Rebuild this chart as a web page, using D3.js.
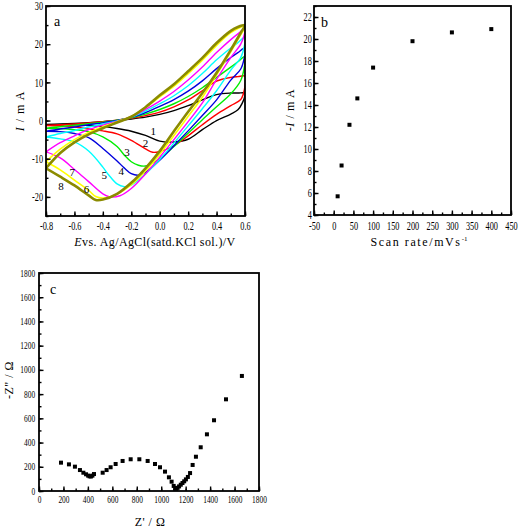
<!DOCTYPE html>
<html><head><meta charset="utf-8">
<script src="https://cdn.jsdelivr.net/npm/d3@7"></script>
<style>
body{margin:0;background:#fff;}
svg{display:block;}
svg text{font-family:"Liberation Serif","Times New Roman",serif !important;}
</style></head><body>
<svg id="chart" width="520" height="530"></svg>
<script>
// ---------- Panel a: cyclic voltammograms (E / V, I / mA) ----------
const cvForwardE = [-0.8, -0.7, -0.6, -0.5, -0.4, -0.3, -0.2, -0.1, 0.0, 0.1, 0.2, 0.3, 0.4, 0.5, 0.55, 0.6];
const cv1Forward = [-1.0, -0.9, -0.75, -0.55, -0.3, 0.0, 0.4, 0.9, 1.6, 2.6, 3.9, 5.4, 6.8, 7.2, 7.2, 7.2];
const cv2Forward = [-1.3, -1.1, -0.9, -0.6, -0.3, 0.1, 0.6, 1.3, 2.2, 3.6, 5.4, 7.8, 10.3, 11.3, 11.5, 11.6];
const cv3Forward = [-2.0, -1.6, -1.2, -0.8, -0.4, 0.1, 0.7, 1.7, 2.9, 4.4, 6.3, 8.6, 11.3, 14.0, 15.4, 16.8];
const cv4Forward = [-2.8, -2.2, -1.7, -1.1, -0.6, 0.0, 0.8, 2.1, 3.7, 5.5, 7.7, 10.4, 13.6, 16.5, 17.8, 19.0];
const cv5Forward = [-4.3, -3.4, -2.6, -1.7, -0.9, -0.1, 0.9, 2.5, 4.4, 6.5, 9.1, 12.3, 15.9, 19.0, 20.4, 21.8];
const cv6Forward = [-8.2, -5.8, -4.0, -2.4, -1.2, -0.2, 1.0, 2.9, 5.1, 7.6, 10.6, 14.0, 17.8, 21.2, 22.7, 24.0];
const cv7Forward = [-10.8, -7.5, -5.0, -3.1, -1.6, -0.3, 1.1, 3.4, 6.2, 9.0, 12.3, 15.8, 19.7, 23.0, 24.1, 24.8];
const cv8Forward = [-12.5, -8.5, -5.7, -3.6, -2.0, -0.5, 1.0, 3.5, 6.6, 9.5, 12.9, 16.4, 20.3, 23.5, 24.5, 25.0];

const cv1Reverse = [[0.6,6.6],[0.58,4.5],[0.55,2.8],[0.5,1.7],[0.4,0.0],[0.3,-2.4],[0.2,-4.9],[0.1,-5.6],[0.0,-5.4],[-0.1,-3.9],[-0.2,-2.8],[-0.3,-2.1],[-0.4,-1.6],[-0.5,-1.3],[-0.6,-1.1],[-0.7,-1.0],[-0.8,-1.0]];
const cv2Reverse = [[0.595,8.0],[0.57,5.5],[0.5,3.9],[0.4,1.6],[0.3,-1.1],[0.2,-4.0],[0.1,-6.6],[0.0,-8.1],[-0.05,-8.3],[-0.1,-7.4],[-0.2,-5.2],[-0.3,-3.5],[-0.4,-2.7],[-0.5,-2.2],[-0.6,-1.7],[-0.7,-1.4],[-0.8,-1.3]];
const cv3Reverse = [[0.595,14.0],[0.57,10.5],[0.5,7.0],[0.4,3.6],[0.3,0.2],[0.2,-3.3],[0.1,-6.8],[0.0,-10.0],[-0.1,-11.9],[-0.15,-11.7],[-0.2,-10.8],[-0.25,-9.0],[-0.3,-6.8],[-0.4,-4.3],[-0.5,-2.9],[-0.6,-2.4],[-0.7,-2.1],[-0.8,-2.0]];
const cv4Reverse = [[0.595,16.5],[0.57,13.5],[0.5,10.6],[0.4,5.4],[0.3,1.3],[0.2,-2.7],[0.1,-6.6],[0.0,-10.4],[-0.1,-13.6],[-0.15,-14.3],[-0.2,-13.9],[-0.25,-12.4],[-0.3,-10.6],[-0.4,-7.3],[-0.5,-4.5],[-0.6,-3.4],[-0.7,-2.9],[-0.8,-2.8]];
const cv5Reverse = [[0.595,19.5],[0.57,16.5],[0.5,13.2],[0.4,7.8],[0.3,3.1],[0.2,-1.4],[0.1,-5.9],[0.0,-10.2],[-0.1,-14.0],[-0.2,-16.9],[-0.25,-17.3],[-0.3,-16.6],[-0.36,-14.2],[-0.4,-12.2],[-0.5,-8.0],[-0.6,-5.6],[-0.7,-4.8],[-0.8,-4.3]];
const cv6Reverse = [[0.595,22.5],[0.57,20.0],[0.5,16.5],[0.4,10.8],[0.3,4.6],[0.2,-0.3],[0.1,-5.0],[0.0,-9.6],[-0.1,-14.0],[-0.2,-17.8],[-0.28,-19.7],[-0.35,-20.0],[-0.4,-19.2],[-0.5,-16.0],[-0.6,-12.8],[-0.7,-9.8],[-0.8,-8.2]];
const cv7Reverse = [[0.595,24.0],[0.57,22.5],[0.5,18.0],[0.4,12.0],[0.3,6.1],[0.2,1.1],[0.1,-3.9],[0.0,-8.8],[-0.1,-13.2],[-0.2,-16.8],[-0.3,-19.3],[-0.4,-20.3],[-0.45,-19.9],[-0.5,-18.3],[-0.6,-15.6],[-0.7,-12.9],[-0.8,-10.8]];
const cv8Reverse = [[0.595,24.5],[0.57,23.0],[0.5,18.5],[0.4,12.5],[0.3,7.2],[0.2,2.3],[0.1,-2.8],[0.0,-8.0],[-0.1,-12.5],[-0.2,-16.3],[-0.3,-19.2],[-0.4,-20.7],[-0.45,-20.8],[-0.5,-19.6],[-0.6,-17.0],[-0.7,-14.7],[-0.8,-12.5]];

const cvLabels = ["1","2","3","4","5","6","7","8"];
const cvLabelAt = [[-0.045,-2.8],[-0.1,-6.0],[-0.23,-8.3],[-0.27,-13.3],[-0.39,-14.2],[-0.515,-17.8],[-0.615,-13.5],[-0.695,-17.1]];

// ---------- Panel b: peak current vs scan rate ----------
const scanRates = [10, 20, 40, 60, 100, 200, 300, 400];
const peakCurrents = [5.7, 8.5, 12.2, 14.6, 17.4, 19.8, 20.6, 20.9];

// ---------- Panel c: Nyquist plot ----------
const zReal = [180,245,294,335,363,385,402,414,425,437,450,521,553,586,627,684,750,821,889,949,990,1031,1063,1085,1102,1114,1124,1134,1146,1160,1174,1188,1202,1218,1236,1257,1284,1323,1374,1432,1530,1660];
const zImag = [234,220,201,173,151,138,127,121,120,127,140,151,173,196,223,248,262,262,248,223,196,160,113,77,42,25,18,26,38,52,66,80,96,116,148,215,283,361,468,584,757,950];

// ---------- styles ----------
const cvColors = ["#000000","#ff0000","#00ee00","#0000dd","#00ffff","#ff00ff","#ffff00","#8b8b00"];
const cvWidths = [1.4,1.4,1.4,1.4,1.4,1.4,1.6,2.6];
const SERIF = '"Liberation Serif","Times New Roman",serif';

const svg = d3.select("#chart");
const cvForward = [cv1Forward,cv2Forward,cv3Forward,cv4Forward,cv5Forward,cv6Forward,cv7Forward,cv8Forward];
const cvReverse = [cv1Reverse,cv2Reverse,cv3Reverse,cv4Reverse,cv5Reverse,cv6Reverse,cv7Reverse,cv8Reverse];

function drawFrame(x, y, cfg) {
  const [x0, x1] = x.range(), [y0, y1] = y.range();
  const styleText = sel => sel.style("font-family", SERIF).attr("font-size", cfg.fs)
      .attr("fill", "#000").attr("transform", `scale(${cfg.sx},1)`);
  const gxm = svg.append("g").attr("transform", `translate(0,${y0})`)
    .call(d3.axisBottom(x).tickValues(cfg.xMinor).tickSize(-2.5).tickFormat(""));
  gxm.select(".domain").remove();
  const gym = svg.append("g").attr("transform", `translate(${x0},0)`)
    .call(d3.axisLeft(y).tickValues(cfg.yMinor).tickSize(-2.5).tickFormat(""));
  gym.select(".domain").remove();
  const gx = svg.append("g").attr("transform", `translate(0,${y0})`)
    .call(d3.axisBottom(x).tickValues(cfg.xMajor).tickSize(-4.5).tickPadding(cfg.xPad).tickFormat(cfg.xFmt));
  gx.select(".domain").remove();
  gx.attr("font-family", null);
  styleText(gx.selectAll("text"));
  const gy = svg.append("g").attr("transform", `translate(${x0},0)`)
    .call(d3.axisLeft(y).tickValues(cfg.yMajor).tickSize(-4.5).tickPadding(cfg.yPad).tickFormat(cfg.yFmt));
  gy.select(".domain").remove();
  gy.attr("font-family", null);
  styleText(gy.selectAll("text"));
  svg.selectAll(".tick line").attr("stroke", "#000").attr("stroke-width", 1.4);
  svg.append("rect").attr("x", x0).attr("y", y1).attr("width", x1 - x0).attr("height", y0 - y1)
    .attr("fill", "none").attr("stroke", "#000").attr("stroke-width", 1.8);
}

// ===== Panel a =====
const ax = d3.scaleLinear().domain([-0.8, 0.6]).range([46, 245]);
const ay = d3.scaleLinear().domain([-25, 30]).range([216, 6]);
svg.append("clipPath").attr("id", "clipA").append("rect")
  .attr("x", 46).attr("y", 6).attr("width", 199).attr("height", 210);
const cvLine = d3.line().x(d => ax(d[0])).y(d => ay(d[1])).curve(d3.curveCatmullRom.alpha(0.5));
const gA = svg.append("g").attr("clip-path", "url(#clipA)");
cvForward.forEach((fwd, k) => {
  const pts = cvForwardE.map((e, i) => [e, fwd[i]]).concat(cvReverse[k]);
  gA.append("path").attr("d", cvLine(pts)).attr("fill", "none")
    .attr("stroke", cvColors[k]).attr("stroke-width", cvWidths[k]).attr("stroke-linejoin", "round");
});
cvLabels.forEach((t, k) => {
  svg.append("text").attr("x", ax(cvLabelAt[k][0])).attr("y", ay(cvLabelAt[k][1]))
    .attr("text-anchor", "middle").attr("dominant-baseline", "central")
    .attr("font-size", 11).text(t);
});
drawFrame(ax, ay, {
  xMajor: d3.range(-8, 7, 2).map(v => v / 10), xMinor: d3.range(-8, 7, 1).map(v => v / 10),
  yMajor: [-20, -10, 0, 10, 20, 30], yMinor: d3.range(-25, 31, 5),
  xFmt: d => d.toFixed(1), yFmt: d => String(d), fs: 11.5, sx: 0.72, xPad: 6, yPad: 4
});
svg.append("text").attr("x", 54).attr("y", 26).attr("font-size", 14).text("a");
const aTitle = svg.append("text").attr("x", 155).attr("y", 246).attr("text-anchor", "middle")
  .attr("font-size", 12).attr("letter-spacing", 0.4);
aTitle.append("tspan").attr("font-style", "italic").text("E");
aTitle.append("tspan").text("vs. Ag/AgCl(satd.KCl sol.)/V");
const aY = svg.append("text").attr("transform", "translate(24,111) rotate(-90)")
  .attr("text-anchor", "middle").attr("font-size", 12).attr("letter-spacing", 1);
aY.append("tspan").attr("font-style", "italic").text("I");
aY.append("tspan").text(" / m A");

// ===== Panel b =====
const bx = d3.scaleLinear().domain([-50, 450]).range([314, 511]);
const by = d3.scaleLinear().domain([4, 23]).range([215, 6]);
svg.append("g").selectAll("rect").data(scanRates).join("rect")
  .attr("x", (d) => bx(d) - 2).attr("y", (d, i) => by(peakCurrents[i]) - 2)
  .attr("width", 4).attr("height", 4).attr("fill", "#000");
drawFrame(bx, by, {
  xMajor: d3.range(-50, 451, 50), xMinor: d3.range(-50, 451, 25),
  yMajor: d3.range(4, 23, 2), yMinor: d3.range(4, 24, 1),
  xFmt: d => String(d), yFmt: d => String(d), fs: 11.5, sx: 0.72, xPad: 7, yPad: 3
});
svg.append("text").attr("x", 321).attr("y", 27).attr("font-size", 14).text("b");
const bTitle = svg.append("text").attr("x", 419).attr("y", 246).attr("text-anchor", "middle")
  .attr("font-size", 12).attr("letter-spacing", 1.6);
bTitle.append("tspan").text("Scan rate/mVs");
bTitle.append("tspan").attr("font-size", 7).attr("dy", -5).attr("letter-spacing", 0).text("-1");
const bY = svg.append("text").attr("transform", "translate(294,110) rotate(-90)")
  .attr("text-anchor", "middle").attr("font-size", 12).attr("letter-spacing", 0.6);
bY.append("tspan").text("-");
bY.append("tspan").attr("font-style", "italic").text("I");
bY.append("tspan").text(" / m A");

// ===== Panel c =====
const cx = d3.scaleLinear().domain([0, 1800]).range([39, 259]);
const cy = d3.scaleLinear().domain([0, 1800]).range([491, 273]);
svg.append("g").selectAll("rect").data(zReal).join("rect")
  .attr("x", d => cx(d) - 2).attr("y", (d, i) => cy(zImag[i]) - 2)
  .attr("width", 4).attr("height", 4).attr("fill", "#000");
drawFrame(cx, cy, {
  xMajor: d3.range(0, 1801, 200), xMinor: d3.range(0, 1801, 100),
  yMajor: d3.range(0, 1801, 200), yMinor: d3.range(0, 1801, 100),
  xFmt: d => String(d), yFmt: d => String(d), fs: 9.5, sx: 0.78, xPad: 5, yPad: 5
});
svg.append("text").attr("x", 50).attr("y", 294).attr("font-size", 14).text("c");
svg.append("text").attr("x", 150).attr("y", 526).attr("text-anchor", "middle")
  .attr("font-size", 12).attr("letter-spacing", 0.5).text("Z' / Ω");
svg.append("text").attr("transform", "translate(13,380) rotate(-90)")
  .attr("text-anchor", "middle").attr("font-size", 12).attr("letter-spacing", 0.5).text("-Z\" / Ω");
</script>
</body></html>
